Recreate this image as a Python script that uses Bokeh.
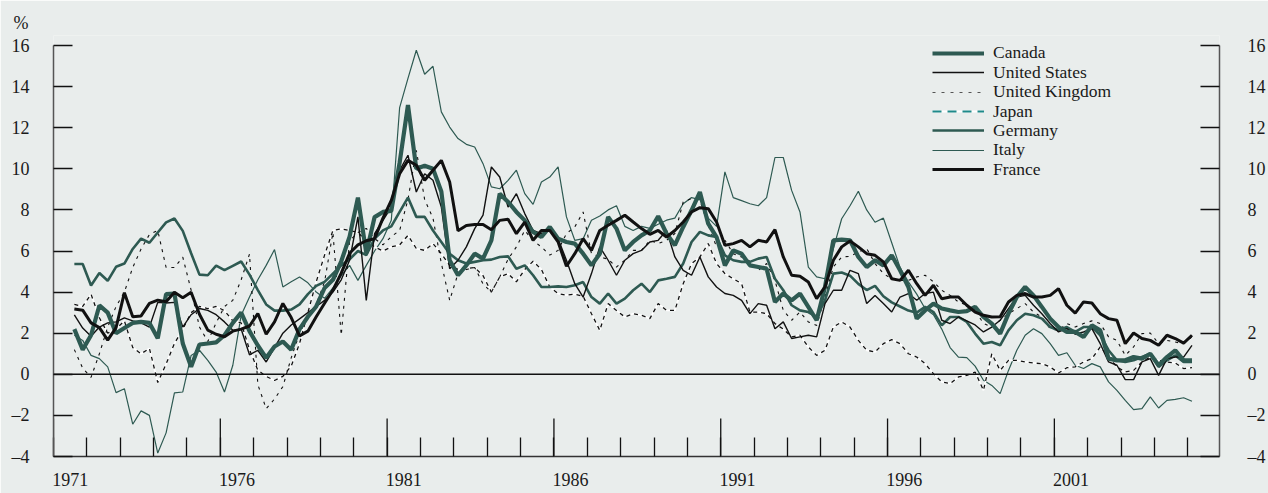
from bokeh.plotting import figure
from bokeh.models import Range1d, LinearAxis, FixedTicker, Span, Legend, LegendItem
from bokeh.embed import file_html
from bokeh.resources import INLINE

# ---------------- data (quarterly, 1971Q3 .. 2005Q1) ----------------
start_year, start_q, n_quarters = 1971, 3, 135
quarters = []
y, q = start_year, start_q
for _ in range(n_quarters):
    quarters.append((y, q))
    q += 1
    if q > 4:
        q, y = 1, y + 1

canada = [2.2, 1.2,
          1.9, 3.35, 3.0, 2.0,  2.25, 2.5, 2.55, 2.5,  1.75, 3.9, 3.93, 1.5,
          0.37, 1.45, 1.5, 1.55,  1.9, 2.5, 3.0, 2.1,  1.4, 0.8, 1.35, 1.6,
          1.2, 2.2, 2.8, 3.3,  4.2, 4.6, 5.5, 6.7,  8.6, 5.9, 7.65, 7.9,
          7.95, 10.3, 13.1, 10.0,  10.15, 10.0, 8.9, 5.55,  4.82, 5.3, 5.87, 5.63,
          6.52, 8.79, 8.39, 7.9,  7.49, 6.93, 6.68, 7.17,  6.6, 6.44, 6.36, 5.87,
          5.3, 5.87, 7.66, 7.09,  6.03, 6.44, 6.76, 7.0,  7.69, 6.85, 6.28, 7.17,
          7.98, 8.87, 7.33, 6.68,  5.3, 6.03, 5.87, 5.3,  5.22, 5.14, 3.52, 3.93,
          3.6, 3.93, 3.28, 2.63,  4.25, 6.52, 6.55, 6.52,  5.71, 5.22, 5.55, 5.3,
          5.79, 5.06, 4.25, 2.71,  3.11, 3.44, 3.2, 3.11,  3.03, 3.07, 3.28, 2.79,
          2.47, 1.98, 2.95, 3.76,  4.25, 3.84, 3.28, 2.71,  2.3, 2.06, 2.06, 1.82,
          2.38, 2.14, 0.76, 0.68,  0.68, 0.84, 0.76, 1.0,  0.44, 0.84, 1.17, 0.68,
          0.68]

united_states = [2.89, 2.25,
          1.85, 2.3, 2.5, 2.55,  2.75, 2.6, 2.5, 2.3,  3.5, 3.47, 3.5, 2.3,
          2.9, 3.2, 3.11, 2.9,  2.55, 2.14, 2.2, 0.95,  1.17, 0.6, 1.3, 2.0,
          2.4, 2.7, 3.0, 3.3,  3.6, 4.0, 4.6, 5.55,  7.66, 3.6, 6.85, 7.49,
          8.14, 9.93, 10.66, 8.87,  9.76, 9.44, 8.14, 5.14,  5.55, 6.2, 7.09, 7.74,
          10.09, 9.6, 8.14, 8.79,  7.82, 7.0, 6.85, 7.0,  6.6, 5.55, 4.41, 3.76,
          4.9, 6.2, 5.55, 4.82,  5.55, 5.87, 6.03, 6.44,  6.52, 7.0, 5.71, 5.06,
          4.82, 5.71, 4.74, 4.25,  3.93, 3.84, 3.6, 2.95,  3.44, 3.36, 2.22, 2.55,
          1.74, 1.82, 1.9, 1.82,  3.44, 4.09, 4.09, 5.06,  4.9, 3.44, 3.84, 3.44,
          3.03, 3.76, 3.93, 3.6,  3.93, 4.0, 2.63, 2.47,  2.79, 2.6, 2.4, 2.06,
          2.3, 2.63, 3.2, 3.76,  3.84, 3.36, 2.95, 2.47,  2.06, 2.22, 1.95, 2.06,
          2.22, 1.49, 0.6, 0.44,  -0.26, -0.26, 0.6, 0.76,  -0.05, 0.76, 0.84, 0.84,
          1.41]

united_kingdom = [1.2, 0.3,
          -0.15, 1.0, 2.3, 3.3,  4.0, 5.2, 6.1, 6.8,  7.0, 5.2, 5.2, 5.7,
          4.1, 2.3, 1.6, 2.5,  3.3, 3.6, 4.6, 5.85,  -0.5, -1.67, -1.2, -0.6,
          0.8, 2.0, 2.8, 3.4,  4.5, 6.9, 1.9, 6.5,  6.9, 7.1, 6.6, 6.3,
          6.7, 7.0, 8.5, 10.9,  8.5, 7.6, 5.4, 3.6,  4.9, 5.1, 5.2, 4.4,
          4.0, 4.74, 5.6, 6.2,  7.0, 6.5, 6.2, 5.8,  6.03, 6.85, 7.17, 7.9,
          5.87, 5.71, 5.6, 5.22,  5.55, 6.03, 6.03, 6.52,  6.36, 6.52, 6.85, 8.39,
          8.55, 8.47, 7.25, 6.2,  6.52, 5.87, 5.71, 5.5,  5.06, 5.39, 4.57, 3.11,
          2.63, 3.03, 2.55, 2.38,  3.76, 5.22, 5.71, 5.74,  5.95, 6.12, 5.39, 4.9,
          4.65, 4.57, 4.57, 4.74,  4.82, 4.5, 4.09, 3.84,  3.52, 3.36, 3.11, 2.47,
          2.3, 2.63, 2.95, 3.2,  3.44, 3.03, 2.79, 2.22,  2.14, 2.47, 2.3, 2.47,
          2.6, 2.47, 1.82, 1.65,  0.92, 1.33, 1.98, 2.01,  1.49, 1.65, 1.57, 1.49,
          1.82]

japan = [3.4, 3.3,
          3.9, 2.75, 2.0, 2.2,  2.6, 1.3, 1.0, 1.26,  -0.4, 0.5, 1.5, 2.2,
          3.0, 3.3, 3.2, 3.3,  3.1, 2.6, 2.5, 1.2,  0.2, -0.1, -0.3, -0.1,
          0.4, 1.5, 3.0, 4.5,  5.8, 7.0, 7.08, 7.0,  6.9, 6.5, 6.2, 6.0,
          6.2, 6.3, 6.76, 6.12,  6.03, 6.36, 5.87, 5.3,  5.1, 5.14, 5.2, 4.8,
          4.0, 4.74, 4.9, 4.5,  5.1, 5.5, 5.1, 4.25,  3.93, 3.85, 3.9, 3.8,
          2.95, 2.14, 3.44, 3.11,  2.79, 2.95, 2.87, 2.71,  3.44, 3.11, 3.11, 4.41,
          5.39, 5.71, 6.36, 5.39,  4.9, 4.65, 4.41, 3.03,  3.03, 2.95, 2.47, 2.2,
          1.82, 1.9, 1.33, 0.92,  1.17, 2.3, 2.55, 2.3,  1.65, 1.17, 1.09, 1.49,
          1.69, 1.49, 1.0, 0.84,  0.52, 0.03, -0.37, -0.45,  -0.13, -0.05, 0.11, -0.78,
          1.0, 0.19, 0.68, 0.68,  0.6, 0.55, 0.52, 0.36,  0.06, 0.32, 0.36, 0.6,
          0.76, 1.33, 0.84, 0.36,  0.11, 0.19, 0.6, 0.84,  0.68, 0.6, 0.55, 0.28,
          0.32]

germany = [5.37, 5.37,
          4.32, 4.93, 4.55, 5.23,  5.39, 6.1, 6.6, 6.4,  6.9, 7.39, 7.58, 6.98,
          5.89, 4.85, 4.82, 5.29,  5.07, 5.28, 5.49, 4.85,  4.1, 3.4, 3.1, 3.1,
          3.15, 3.4, 3.9, 4.3,  4.5, 4.9, 5.3, 5.6,  6.0, 5.8, 6.6, 7.0,
          7.2, 7.9, 8.6, 7.66,  7.66, 7.0, 6.44, 5.87,  5.55, 5.39, 5.47, 5.55,
          5.58, 5.71, 5.74, 5.14,  5.3, 4.82, 4.25, 4.25,  4.28, 4.25, 4.33, 4.49,
          3.76, 3.44, 3.93, 3.44,  3.68, 4.09, 4.41, 4.0,  4.57, 4.65, 4.74, 5.39,
          6.44, 6.93, 6.76, 6.68,  5.79, 5.55, 5.47, 5.47,  5.63, 5.71, 4.65, 4.09,
          3.36, 3.11, 3.03, 2.79,  3.6, 4.9, 4.95, 4.8,  4.4, 4.1, 4.3, 3.8,
          3.5, 3.3, 3.1, 3.0,  3.28, 3.03, 2.38, 2.79,  2.79, 2.55, 1.98, 1.49,
          1.57, 1.41, 2.14, 2.63,  2.95, 2.87, 2.71, 2.3,  2.14, 2.3, 2.06, 2.3,
          2.3, 1.9, 1.17, 0.68,  0.6, 0.68, 0.84, 1.0,  0.36, 0.68, 0.92, 0.6,
          0.6]

italy = [1.9, 1.65,
          0.92, 0.76, 0.36, -0.89,  -0.7, -2.43, -1.78, -2.0,  -3.83, -2.85, -0.9, -0.86,
          0.92, 1.17, 0.68, 0.11,  -0.86, 0.44, 2.87, 3.76,  4.6, 5.3, 6.07, 4.25,
          4.5, 4.73, 4.45, 4.0,  3.7, 4.2, 4.8, 5.3,  4.57, 5.3, 6.0, 6.6,
          7.5, 12.98, 14.4, 15.77,  14.6, 14.99, 12.77, 12.03,  11.47, 11.19, 11.06, 10.25,
          9.12, 9.03, 9.44, 9.93,  8.79, 8.27, 9.36, 9.6,  10.09, 7.66, 6.52, 6.6,
          7.5, 7.7, 8.0, 8.2,  7.2, 7.0, 7.2, 7.1,  7.3, 7.5, 7.6, 8.3,
          8.6, 8.5, 7.6, 7.2,  9.85, 8.6, 8.45, 8.3,  8.2, 8.6, 10.55, 10.55,
          8.95, 7.9, 5.22, 4.74,  4.65, 6.1, 7.57, 8.2,  8.91, 8.0, 7.4, 7.6,
          6.4, 5.2, 4.5, 3.9,  3.2, 2.9, 2.2, 1.3,  0.84, 0.81, 0.4, -0.29,
          -0.54, -0.94, 0.19, 1.17,  1.9, 2.22, 1.98, 1.49,  0.92, 1.05, 0.44, 0.28,
          0.52, 0.36, -0.37, -0.78,  -1.27, -1.72, -1.67, -1.1,  -1.64, -1.27, -1.22, -1.14,
          -1.31]

france = [3.18, 3.12,
          2.5, 2.27, 1.66, 2.27,  3.97, 2.8, 2.84, 3.45,  3.61, 3.53, 3.99, 3.73,
          3.99, 2.92, 2.15, 1.95,  1.83, 2.1, 2.2, 2.35,  2.96, 1.95, 2.55, 3.45,
          2.76, 1.87, 2.1, 2.8,  3.46, 4.1, 4.92, 5.89,  6.3, 6.5, 6.6, 7.6,
          8.46, 9.76, 10.41, 10.17,  9.44, 9.93, 10.41, 9.36,  6.99, 7.24, 7.29, 7.29,
          7.03, 7.49, 7.55, 6.84,  7.41, 6.52, 7.0, 7.0,  6.44, 5.26, 5.87, 6.6,
          6.03, 7.0, 7.25, 7.49,  7.74, 7.41, 7.09, 6.81,  7.0, 6.68, 7.0, 7.41,
          7.9, 8.11, 8.06, 7.41,  6.28, 6.36, 6.52, 6.2,  6.52, 6.44, 7.04, 5.71,
          4.82, 4.77, 4.49, 3.68,  4.25, 5.55, 6.2, 6.49,  6.2, 5.87, 5.79, 5.47,
          4.65, 4.57, 5.06, 4.41,  3.84, 4.33, 3.68, 3.76,  3.76, 3.36, 3.03, 2.87,
          2.79, 2.8, 3.52, 3.84,  3.93, 3.76, 3.76, 3.84,  4.17, 3.36, 2.98, 3.52,
          3.47, 2.95, 2.71, 2.63,  1.49, 2.01, 1.74, 1.65,  1.41, 1.9, 1.74, 1.52,
          1.9]

y_ticks = [-4, -2, 0, 2, 4, 6, 8, 10, 12, 14, 16]
label_years = [1971, 1976, 1981, 1986, 1991, 1996, 2001]
legend_names = ["Canada", "United States", "United Kingdom", "Japan",
                "Germany", "Italy", "France"]

# ---------------- layout ----------------
BG = "#e9edec"
GREEN = "#2e5a52"
FONT = "Liberation Serif"
FS = "18px"
LEG_FS = "17.5px"

PX_PER_UNIT = 411 / 20          # 20 units from -4 to 16 over 411 px
HEADROOM = 10                   # px of frame above the top tick (room for the legend)
Y0, Y1 = y_ticks[0], y_ticks[-1]

xs = [yr + (qq - 0.5) / 4 for (yr, qq) in quarters]

p = figure(width=1268, height=493, output_backend="svg", toolbar_location=None,
           x_range=Range1d(1971, 2005.95),
           y_range=Range1d(Y0, Y1 + HEADROOM / PX_PER_UNIT),
           min_border_left=53, min_border_right=49, min_border_top=45 - HEADROOM,
           min_border_bottom=37,
           background_fill_color=BG, border_fill_color=BG, outline_line_color=None,
           title="%")
p.grid.visible = False
p.title.align = "left"
p.title.offset = -40
p.title.standoff = 15 - HEADROOM
p.title.text_font = FONT
p.title.text_font_size = FS
p.title.text_font_style = "normal"
p.title.text_color = "#1a1a1a"

minus = {t: ("\u2013" + str(-t)) for t in y_ticks if t < 0}


def style_y(ax, standoff):
    ax.ticker = FixedTicker(ticks=y_ticks)
    ax.bounds = (Y0, Y1)
    ax.major_label_overrides = minus
    ax.major_tick_in = 19
    ax.major_tick_out = 0
    ax.minor_tick_line_color = None
    ax.axis_line_color = "#555555"
    ax.axis_line_width = 1.5
    ax.major_tick_line_color = "#111111"
    ax.major_tick_line_width = 1.3
    ax.major_label_standoff = standoff
    ax.major_label_text_font = FONT
    ax.major_label_text_font_size = FS
    ax.major_label_text_color = "#1a1a1a"


style_y(p.yaxis[0], 24)
yr_axis = LinearAxis()
style_y(yr_axis, 28)
p.add_layout(yr_axis, "right")

xa = p.xaxis[0]
all_years = list(range(1971, 2006))
xa.ticker = FixedTicker(ticks=[yy + 0.5 for yy in label_years], minor_ticks=all_years)
xa.major_label_overrides = {yy + 0.5: str(yy) for yy in label_years}
xa.major_tick_line_color = None
xa.major_tick_in = 0
xa.major_tick_out = 0
xa.minor_tick_in = 19
xa.minor_tick_out = 0
xa.minor_tick_line_color = "#111111"
xa.minor_tick_line_width = 1.3
xa.axis_line_color = "#333333"
xa.axis_line_width = 1.5
xa.major_label_standoff = 16
xa.major_label_text_font = FONT
xa.major_label_text_font_size = FS
xa.major_label_text_color = "#1a1a1a"

# taller ticks every five years
tall = 38 / PX_PER_UNIT
p.segment(x0=label_years, y0=[Y0] * len(label_years),
          x1=label_years, y1=[Y0 + tall] * len(label_years),
          line_color="#111111", line_width=1.3)

p.add_layout(Span(location=0, dimension="width", line_color="#111111", line_width=1.4))

# series
r_it = p.line(xs, italy, line_color=GREEN, line_width=1.2)
r_jp_w = p.line(xs, japan, line_color="white", line_width=1.8)
r_jp_d = p.line(xs, japan, line_color="#111111", line_width=1.3, line_dash="4 4")
r_uk = p.line(xs, united_kingdom, line_color="#111111", line_width=1.1, line_dash="3 5")
r_de = p.line(xs, germany, line_color=GREEN, line_width=2.6)
r_us = p.line(xs, united_states, line_color="#111111", line_width=1.4)
r_ca = p.line(xs, canada, line_color=GREEN, line_width=4.2)
r_fr = p.line(xs, france, line_color="#111111", line_width=3.0)

# legend-only swatches (a single point draws no line in the plot)
lg_jp_w = p.line(xs[:1], japan[:1], line_color="white", line_width=2.2)
lg_jp_d = p.line(xs[:1], japan[:1], line_color="#1f8a8a", line_width=2.2, line_dash="9 6")
lg_uk = p.line(xs[:1], united_kingdom[:1], line_color="#555555", line_width=1.2, line_dash="3 6")

legend_renderers = [[r_ca], [r_us], [lg_uk], [lg_jp_w, lg_jp_d], [r_de], [r_it], [r_fr]]

# one legend per row so the rows can sit as tightly as in the original
ROW_H = 20
PITCH = 19.4
for k, (name, rends) in enumerate(zip(legend_names, legend_renderers)):
    centre = 53.3 + PITCH * k               # row centre, pixels from top of canvas
    vy = 456 - centre - ROW_H / 2           # legend bottom, pixels above frame bottom
    lg = Legend(items=[LegendItem(label=name, renderers=rends)], location=(879, vy))
    lg.background_fill_alpha = 0
    lg.border_line_color = None
    lg.padding = 0
    lg.margin = 0
    lg.spacing = 0
    lg.glyph_width = 52
    lg.glyph_height = ROW_H
    lg.label_height = ROW_H
    lg.label_standoff = 9
    lg.label_text_font = FONT
    lg.label_text_font_size = LEG_FS
    lg.label_text_color = "#1a1a1a"
    p.add_layout(lg, "center")

html = file_html(p, INLINE)
html = html.replace("<body>", '<body style="background:%s">' % BG, 1)
open("out.html", "w").write(html)
